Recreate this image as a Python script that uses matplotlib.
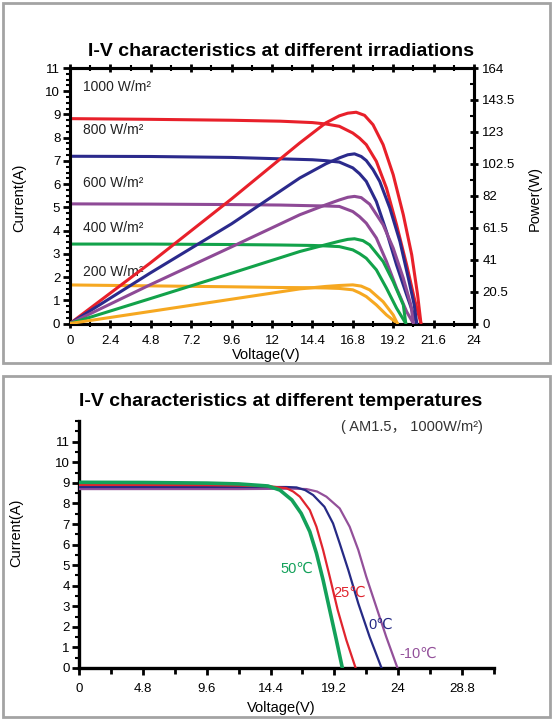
import numpy as np
import matplotlib
matplotlib.use('Agg')
import matplotlib.pyplot as plt
from matplotlib.patches import Rectangle
from matplotlib.ticker import MultipleLocator

plt.rcParams['font.family'] = ['Liberation Sans', 'DejaVu Sans', 'Noto Sans CJK SC']

# ---------------- irradiation chart data ----------------
# I-V curves, current in A
v_1000 = [0, 4.8, 9.6, 12.5, 14.4, 15.2, 16.0, 16.8, 17.2, 17.6, 18.2, 18.8, 19.4, 20.0, 20.5, 20.85]
i_1000 = [8.82, 8.79, 8.75, 8.71, 8.65, 8.59, 8.49, 8.20, 7.98, 7.70, 6.98, 5.83, 4.25, 2.52, 0.94, 0]
v_800 = [0, 4.8, 9.6, 12.5, 14.4, 15.2, 16.0, 16.8, 17.2, 17.6, 18.2, 18.8, 19.4, 20.0, 20.6]
i_800 = [7.20, 7.19, 7.15, 7.09, 7.05, 7.01, 6.95, 6.70, 6.45, 6.12, 5.25, 3.96, 2.52, 1.23, 0]
v_600 = [0, 4.8, 9.6, 12.5, 14.4, 15.2, 16.0, 16.8, 17.2, 17.6, 18.2, 18.8, 19.4, 20.0, 20.4]
i_600 = [5.15, 5.14, 5.12, 5.10, 5.07, 5.06, 5.04, 4.82, 4.60, 4.32, 3.68, 2.67, 1.52, 0.51, 0]
v_400 = [0, 4.8, 9.6, 12.5, 14.4, 15.2, 16.0, 16.8, 17.2, 17.6, 18.2, 18.8, 19.4, 19.95]
i_400 = [3.42, 3.42, 3.40, 3.38, 3.36, 3.34, 3.31, 3.17, 3.01, 2.81, 2.31, 1.52, 0.66, 0]
v_200 = [0, 4.8, 9.6, 12.5, 14.4, 15.2, 16.0, 16.8, 17.2, 17.6, 18.2, 18.8, 19.45]
i_200 = [1.66, 1.62, 1.58, 1.55, 1.54, 1.53, 1.51, 1.45, 1.32, 1.16, 0.80, 0.37, 0]

# P-V curves, power in W
pv_1000 = [0, 4.75, 9.6, 13.65, 15.2, 16.0, 16.5, 17.0, 17.5, 18.0, 18.6, 19.2, 19.8, 20.3, 20.65, 20.85]
p_1000 = [0, 38.7, 80.0, 115.9, 128.8, 133.3, 135.0, 135.6, 133.6, 127.6, 114.8, 95.5, 69.8, 44.1, 18.3, 0]
pv_800 = [0, 4.75, 9.6, 13.65, 15.2, 16.0, 16.5, 16.9, 17.3, 17.6, 18.0, 18.4, 19.0, 19.6, 20.1, 20.45, 20.6]
p_800 = [0, 32.3, 64.0, 93.4, 102.5, 106.3, 108.3, 108.9, 107.2, 104.6, 98.8, 91.2, 74.1, 52.6, 29.1, 11.9, 0]
pv_600 = [0, 4.75, 9.6, 13.65, 15.2, 16.0, 16.5, 16.9, 17.3, 17.8, 18.6, 19.2, 19.8, 20.25, 20.4]
p_600 = [0, 24.8, 49.2, 69.8, 76.2, 79.3, 81.0, 81.6, 80.8, 76.6, 63.4, 48.4, 29.1, 11.9, 0]
pv_400 = [0, 4.75, 9.6, 13.65, 15.2, 16.0, 16.5, 16.9, 17.4, 17.8, 18.6, 19.2, 19.8, 19.95]
p_400 = [0, 15.9, 32.3, 46.2, 50.6, 52.8, 54.0, 54.4, 53.2, 50.5, 39.8, 26.9, 11.9, 0]
pv_200 = [0, 4.75, 9.6, 13.65, 15.2, 16.0, 16.8, 17.3, 17.8, 18.6, 19.2, 19.45]
p_200 = [0, 7.7, 15.6, 22.2, 23.8, 24.4, 24.8, 24.0, 21.6, 14.0, 5.5, 0]

irr_labels = ['1000 W/m²', '800 W/m²', '600 W/m²', '400 W/m²', '200 W/m²']
irr_label_y = [10.2, 8.35, 6.05, 4.1, 2.23]
irr_colors = ['#e8202a', '#2b2a8c', '#8e4a96', '#12a24a', '#f6a821']

# ---------------- temperature chart data ----------------
v_t50 = [0, 4.8, 9.6, 12.0, 14.2, 15.1, 16.0, 16.7, 17.35, 17.85, 18.35, 18.85, 19.35, 19.8]
i_t50 = [9.03, 9.02, 8.99, 8.95, 8.85, 8.65, 8.17, 7.52, 6.63, 5.58, 4.28, 2.82, 1.36, 0]
v_t25 = [0, 4.8, 9.6, 12.0, 14.4, 15.6, 16.1, 16.6, 17.35, 17.85, 18.35, 18.85, 19.45, 20.1, 20.8]
i_t25 = [8.90, 8.90, 8.89, 8.87, 8.83, 8.74, 8.58, 8.33, 7.68, 6.87, 5.74, 4.44, 2.82, 1.36, 0]
v_t0 = [0, 4.8, 9.6, 12.0, 14.4, 15.6, 16.35, 17.0, 17.6, 18.45, 19.1, 19.6, 20.25, 21.0, 21.85, 22.75]
i_t0 = [8.80, 8.80, 8.80, 8.80, 8.80, 8.80, 8.78, 8.65, 8.41, 7.84, 7.03, 6.06, 4.76, 3.14, 1.52, 0]
v_tm10 = [0, 4.8, 9.6, 12.0, 14.4, 16.0, 17.1, 17.9, 18.6, 19.6, 20.35, 21.0, 21.6, 22.35, 23.1, 23.95]
i_tm10 = [8.70, 8.70, 8.70, 8.70, 8.71, 8.72, 8.70, 8.58, 8.33, 7.76, 6.87, 5.74, 4.44, 2.98, 1.52, 0]

temp_labels = ['50℃', '25℃', '0℃', '-10℃']
temp_label_xy = [(16.35, 4.8), (20.35, 3.63), (22.7, 2.1), (25.5, 0.68)]
temp_colors = ['#13a15a', '#e0242e', '#262a85', '#93509a']
temp_widths = [2.6, 1.6, 1.6, 1.6]

fig = plt.figure(figsize=(5.53, 7.2), dpi=100)

# gray frames around both panels
for (y0, y1) in [(3, 363), (376, 717)]:
    fig.patches.append(Rectangle((3 / 553, 1 - y1 / 720), 547 / 553, (y1 - y0) / 720,
                                 transform=fig.transFigure, fill=False,
                                 edgecolor='#a3a3a3', linewidth=2.0))

# ================= top chart =================
ax1 = fig.add_axes([70 / 553, 1 - 323.5 / 720, 404 / 553, 255.5 / 720])
ax2 = ax1.twinx()

iv = [(v_1000, i_1000), (v_800, i_800), (v_600, i_600), (v_400, i_400), (v_200, i_200)]
pv = [(pv_1000, p_1000), (pv_800, p_800), (pv_600, p_600), (pv_400, p_400), (pv_200, p_200)]
for k in range(5):
    ax1.plot(iv[k][0], iv[k][1], color=irr_colors[k], lw=2.2, solid_capstyle='round', zorder=3)
    ax2.plot(pv[k][0], pv[k][1], color=irr_colors[k], lw=2.2, solid_capstyle='round', zorder=3)
    ax1.text(0.8, irr_label_y[k], irr_labels[k], fontsize=10, color='#222222', va='center')

ax1.set_xlim(0, 24)
ax1.set_ylim(0, 11)
ax2.set_ylim(0, 164)
ax1.set_xticks(np.arange(0, 24.1, 2.4))
ax1.set_xticklabels(['0', '2.4', '4.8', '7.2', '9.6', '12', '14.4', '16.8', '19.2', '21.6', '24'])
ax1.xaxis.set_minor_locator(MultipleLocator(1.2))
ax1.set_yticks(range(12))
ax1.yaxis.set_minor_locator(MultipleLocator(0.25))
ax2.set_yticks(np.arange(0, 164.1, 20.5))
ax2.set_yticklabels(['0', '20.5', '41', '61.5', '82', '102.5', '123', '143.5', '164'])
ax2.yaxis.set_minor_locator(MultipleLocator(10.25))

ax1.tick_params(axis='x', which='major', direction='inout', length=6, width=2, labelsize=9.5, pad=5)
ax1.tick_params(axis='x', which='minor', direction='inout', length=4, width=1.5)
ax1.tick_params(axis='x', top=True, which='both')
ax1.tick_params(axis='y', which='major', direction='out', length=5, width=2, labelsize=9.5, pad=2)
ax1.tick_params(axis='y', which='minor', direction='out', length=3, width=1.5)
ax2.tick_params(axis='y', which='major', direction='inout', length=6, width=2, labelsize=9.5, pad=3)
ax2.tick_params(axis='y', which='minor', direction='in', length=3, width=1.5)
for sp in ax1.spines.values():
    sp.set_linewidth(2.2)
for sp in ax2.spines.values():
    sp.set_linewidth(2.2)

ax1.set_xlabel('Voltage(V)', fontsize=10.5)
ax1.xaxis.set_label_coords(0.486, -0.096)
ax1.set_ylabel('Current(A)', fontsize=10.5)
ax1.yaxis.set_label_coords(-0.109, 0.49)
ax2.set_ylabel('Power(W)', fontsize=10.5)
ax2.yaxis.set_label_coords(1.134, 0.49)
fig.text(0.508, 1 - 52 / 720, 'I-V characteristics at different irradiations',
         ha='center', va='center', fontsize=14, fontweight='bold')

# ================= bottom chart =================
ax3 = fig.add_axes([79.3 / 553, 1 - 668 / 720, 414.5 / 553, 246.8 / 720])
temp_curves = [(v_t50, i_t50), (v_t25, i_t25), (v_t0, i_t0), (v_tm10, i_tm10)]
# draw the coldest first so the 50C line sits on top, as in the picture
for k in [3, 2, 1, 0]:
    ax3.plot(temp_curves[k][0], temp_curves[k][1], color=temp_colors[k], lw=temp_widths[k], zorder=3)
for k in range(4):
    ax3.text(temp_label_xy[k][0], temp_label_xy[k][1], temp_labels[k], color=temp_colors[k],
             fontsize=10.5, ha='center', va='center', family=['Liberation Sans', 'DejaVu Sans'], zorder=4)

ax3.set_xlim(0, 31.2)
ax3.set_ylim(0, 12)
ax3.set_xticks(np.arange(0, 28.9, 4.8))
ax3.set_xticklabels(['0', '4.8', '9.6', '14.4', '19.2', '24', '28.8'])
ax3.xaxis.set_minor_locator(MultipleLocator(2.4))
ax3.set_yticks(range(12))
ax3.yaxis.set_minor_locator(MultipleLocator(0.5))
ax3.tick_params(axis='x', which='major', direction='out', length=5, width=2, labelsize=9.5, pad=6)
ax3.tick_params(axis='x', which='minor', direction='out', length=4, width=2)
ax3.tick_params(axis='y', which='major', direction='out', length=5, width=2, labelsize=9.5, pad=2)
ax3.tick_params(axis='y', which='minor', direction='out', length=3, width=1.5)
ax3.spines['top'].set_visible(False)
ax3.spines['right'].set_visible(False)
ax3.spines['left'].set_linewidth(2.4)
ax3.spines['bottom'].set_linewidth(2.4)
ax3.set_xlabel('Voltage(V)', fontsize=10.5)
ax3.xaxis.set_label_coords(0.488, -0.134)
ax3.set_ylabel('Current(A)', fontsize=10.5)
ax3.yaxis.set_label_coords(-0.136, 0.547)

fig.text(0.508, 1 - 401.7 / 720, 'I-V characteristics at different temperatures',
         ha='center', va='center', fontsize=14, fontweight='bold')
fig.text(483 / 553, 1 - 426.7 / 720, '( AM1.5， 1000W/m²)', ha='right', va='center',
         fontsize=10.5, color='#333333', family=['Liberation Sans', 'Noto Sans CJK SC'])

fig.savefig('out.png', dpi=100)
